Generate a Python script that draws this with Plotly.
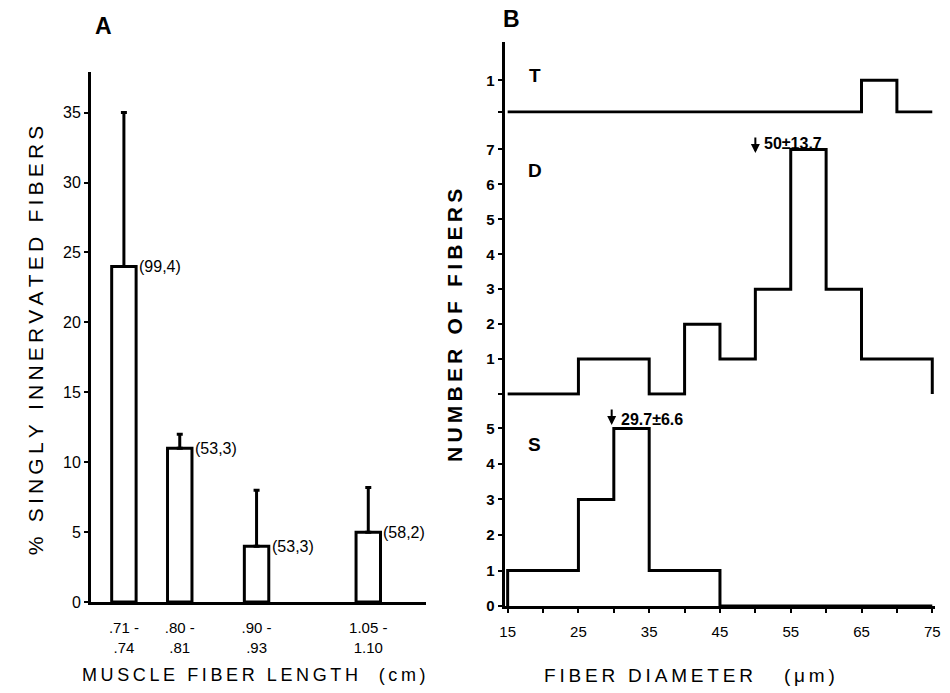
import plotly.graph_objects as go

W, H = 950, 693
FONT = "Liberation Sans, Arial, sans-serif"

# ---- Panel A: singly innervated fibres vs muscle fibre length ----
length_lo = [0.71, 0.80, 0.90, 1.05]
length_hi = [0.74, 0.81, 0.93, 1.10]
length_lo_txt = [".71 -", ".80 -", ".90 -", "1.05 -"]
length_hi_txt = [".74", ".81", ".93", "1.10"]
pct_single = [24, 11, 4, 5]
pct_err = [11, 1, 4, 3.2]
n_labels = ["(99,4)", "(53,3)", "(53,3)", "(58,2)"]

# ---- Panel B: fibre diameter histograms (5 um bins) ----
bin_edges = [15, 20, 25, 30, 35, 40, 45, 50, 55, 60, 65, 70, 75]
count_T = [0, 0, 0, 0, 0, 0, 0, 0, 0, 0, 1, 0]
count_D = [0, 0, 1, 1, 0, 2, 1, 3, 7, 3, 1, 1]
count_S = [1, 1, 3, 5, 1, 1, 0, 0, 0, 0, 0, 0]
mean_D, sd_D = 50, 13.7
mean_S, sd_S = 29.7, 6.6


def spaced(s, sep="\u2009"):
    """Letter-spaced caption text."""
    return sep.join(s)


def outline(edges, counts):
    xs, ys = [edges[0]], [0]
    for i, c in enumerate(counts):
        xs += [edges[i], edges[i + 1]]
        ys += [c, c]
    xs.append(edges[-1])
    ys.append(0)
    return xs, ys


def px_x(p):
    return p / W


def px_y(p):
    return 1 - p / H


mids = [(a + b) / 2 for a, b in zip(length_lo, length_hi)]
ticktext_a = [f"{a}<br>{b}" for a, b in zip(length_lo_txt, length_hi_txt)]

fig = go.Figure()

fig.add_trace(go.Bar(
    x=mids, y=pct_single, width=0.035,
    marker=dict(color="white", line=dict(color="black", width=3)),
    error_y=dict(type="data", array=pct_err, arrayminus=[0] * len(pct_err),
                 symmetric=False, color="black", thickness=3, width=3),
    xaxis="x", yaxis="y", showlegend=False,
))

for name, counts, ya in (("S", count_S, "y2"), ("D", count_D, "y3"), ("T", count_T, "y4")):
    xs, ys = outline(bin_edges, counts)
    xa = {"y2": "x2", "y3": "x3", "y4": "x4"}[ya]
    fig.add_trace(go.Scatter(
        x=xs, y=ys, mode="lines", line=dict(color="black", width=3),
        xaxis=xa, yaxis=ya, showlegend=False, name=name,
    ))

ann = []
for m, v, lab in zip(mids, pct_single, n_labels):
    ann.append(dict(x=m, y=v, xref="x", yref="y", text=lab, showarrow=False,
                    xanchor="left", xshift=13, font=dict(size=16, family=FONT, color="black")))

# panel letters
ann.append(dict(x=px_x(100), y=px_y(26), xref="paper", yref="paper", text="<b>A</b>",
                xanchor="center", yanchor="middle",
                showarrow=False, font=dict(size=23, family=FONT, color="black")))
ann.append(dict(x=px_x(512), y=px_y(19), xref="paper", yref="paper", text="<b>B</b>",
                xanchor="center", yanchor="middle",
                showarrow=False, font=dict(size=23, family=FONT, color="black")))

# subplot labels
for lab, xr, yr, yv in (("T", "x4", "y4", 1.16), ("D", "x3", "y3", 6.4), ("S", "x2", "y2", 4.55)):
    ann.append(dict(x=18.8, y=yv, xref=xr, yref=yr, text=f"<b>{lab}</b>", showarrow=False,
                    font=dict(size=19, family=FONT, color="black")))

# mean markers
for mean, sd, xr, yr, tip, ty in ((mean_D, sd_D, "x3", "y3", 6.9, 7.17),
                                  (mean_S, sd_S, "x2", "y2", 5.1, 5.25)):
    ann.append(dict(x=mean, y=tip, xref=xr, yref=yr, ax=0, ay=-17, showarrow=True,
                    arrowhead=2, arrowsize=0.9, arrowwidth=2, arrowcolor="black", text=""))
    ann.append(dict(x=mean, y=ty, xref=xr, yref=yr, text=f"<b>{mean:g}±{sd:g}</b>",
                    showarrow=False, xanchor="left", xshift=7,
                    font=dict(size=16, family=FONT, color="black")))

# axis titles
ann.append(dict(x=px_x(31), y=px_y(345), xref="paper", yref="paper",
                xanchor="center", yanchor="middle",
                text=spaced("% SINGLY INNERVATED FIBERS"), textangle=-90, showarrow=False,
                font=dict(size=21, family=FONT, color="black")))
ann.append(dict(x=px_x(252), y=px_y(684), xref="paper", yref="paper",
                xanchor="center", yanchor="middle",
                text=spaced("MUSCLE FIBER LENGTH  (cm)"), showarrow=False,
                font=dict(size=18, family=FONT, color="black")))
ann.append(dict(x=px_x(455), y=px_y(330), xref="paper", yref="paper",
                xanchor="center", yanchor="middle",
                text="<b>" + spaced("NUMBER OF FIBERS") + "</b>", textangle=-90, showarrow=False,
                font=dict(size=21, family=FONT, color="black")))
ann.append(dict(x=px_x(692), y=px_y(684), xref="paper", yref="paper",
                xanchor="center", yanchor="middle",
                text=spaced("FIBER DIAMETER   (μm)"), showarrow=False,
                font=dict(size=19, family=FONT, color="black")))

axis_common = dict(showgrid=False, zeroline=False, linecolor="black",
                   linewidth=3, tickcolor="black", tickwidth=2)

b_dom = [px_x(505), px_x(940)]
b_rng = [14.58, 75.4]
tick_b = [str(v) if (v - 15) % 10 == 0 else "" for v in bin_edges]
tf_reg = dict(size=15, family=FONT, color="black")
tf_bold = dict(size=15, family=FONT, color="black", weight="bold")

fig.update_layout(
    width=W, height=H, margin=dict(l=0, r=0, t=0, b=0),
    paper_bgcolor="white", plot_bgcolor="white",
    font=dict(family=FONT, color="black"),
    annotations=ann,
    xaxis=dict(domain=[px_x(87), px_x(425)], range=[0.678, 1.157], anchor="y", showline=True,
               tickvals=mids, ticktext=ticktext_a, ticks="", tickfont=tf_reg,
               ticklabelstandoff=10, **axis_common),
    yaxis=dict(domain=[px_y(610), px_y(73)], range=[0, 37.9], anchor="x", showline=True,
               tickvals=list(range(0, 36, 5)), ticks="outside", ticklen=4,
               tickfont=dict(size=16, family=FONT, color="black"), **axis_common),
    xaxis2=dict(domain=b_dom, range=b_rng, anchor="y2", tickvals=bin_edges, ticktext=tick_b,
                showline=True, ticks="outside", ticklen=4, tickfont=tf_reg,
                ticklabelstandoff=6, **axis_common),
    # D and T baselines come from the histogram outlines themselves
    xaxis3=dict(domain=b_dom, range=b_rng, anchor="y3", matches="x2", showline=False,
                showticklabels=False, ticks="", **axis_common),
    xaxis4=dict(domain=b_dom, range=b_rng, anchor="y4", matches="x2", showline=False,
                showticklabels=False, ticks="", **axis_common),
    yaxis2=dict(domain=[px_y(614), px_y(401)], range=[0, 5.92], anchor="x2", showline=True,
                tickvals=[0, 1, 2, 3, 4, 5], ticks="outside", ticklen=4,
                tickfont=tf_bold, **axis_common),
    yaxis3=dict(domain=[px_y(401), px_y(115)], range=[-0.05, 8.03], anchor="x3", showline=True,
                tickvals=[0, 1, 2, 3, 4, 5, 6, 7], ticktext=["", "1", "2", "3", "4", "5", "6", "7"],
                ticks="outside", ticklen=4, tickfont=tf_bold, **axis_common),
    yaxis4=dict(domain=[px_y(115), px_y(43)], range=[-0.05, 2.2], anchor="x4", showline=True,
                tickvals=[0, 1], ticktext=["", "1"], ticks="outside", ticklen=4,
                tickfont=tf_bold, **axis_common),
)

fig.write_html("out.html")
